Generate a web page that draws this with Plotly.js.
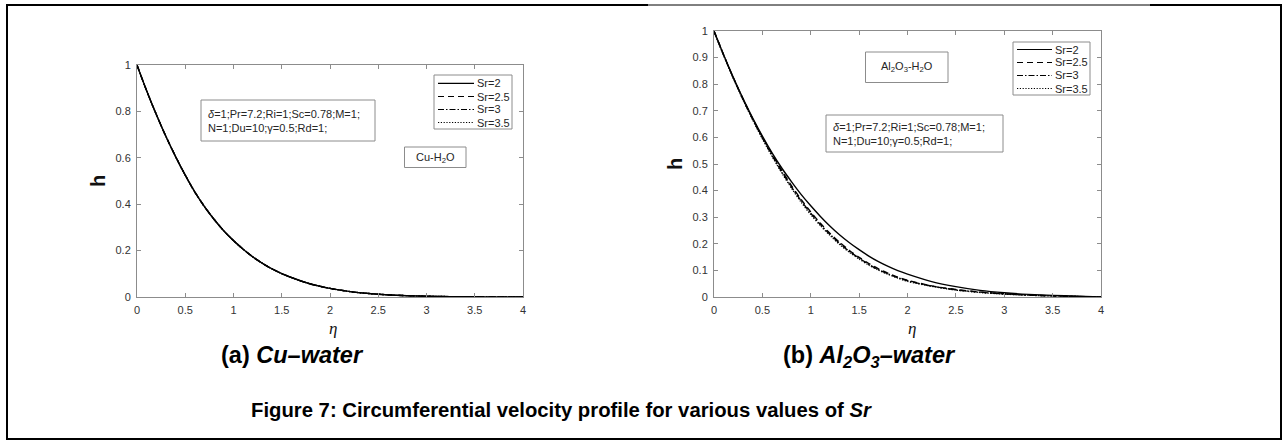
<!DOCTYPE html>
<html>
<head>
<meta charset="utf-8">
<script src="https://cdn.plot.ly/plotly-3.0.1.min.js"></script>
<style>html,body{margin:0;padding:0;background:#fff;}#chart{width:1283px;height:441px;}</style>
</head>
<body>
<div id="chart"></div>
<script>
// ---- data ----
const eta = [0, 0.1, 0.2, 0.3, 0.4, 0.5, 0.6, 0.7, 0.8, 0.9, 1.0, 1.1, 1.2, 1.3, 1.4, 1.5, 1.6, 1.7, 1.8, 1.9, 2.0,
             2.25, 2.5, 2.75, 3.0, 3.25, 3.5, 3.75, 4.0];

// (a) Cu-water : the four curves coincide
const hCuSr2  = [1, 0.889, 0.787, 0.692, 0.605, 0.525, 0.452, 0.389, 0.334, 0.285, 0.243, 0.206, 0.173, 0.145, 0.121, 0.101,
                 0.084, 0.069, 0.056, 0.046, 0.037, 0.021, 0.012, 0.0064, 0.0033, 0.0017, 0.0008, 0.0003, 0];
const hCuSr25 = [1, 0.889, 0.787, 0.692, 0.605, 0.525, 0.452, 0.389, 0.334, 0.285, 0.243, 0.206, 0.173, 0.145, 0.121, 0.101,
                 0.084, 0.069, 0.056, 0.046, 0.037, 0.021, 0.012, 0.0064, 0.0033, 0.0017, 0.0008, 0.0003, 0];
const hCuSr3  = [1, 0.889, 0.787, 0.692, 0.605, 0.525, 0.452, 0.389, 0.334, 0.285, 0.243, 0.206, 0.173, 0.145, 0.121, 0.101,
                 0.084, 0.069, 0.056, 0.046, 0.037, 0.021, 0.012, 0.0064, 0.0033, 0.0017, 0.0008, 0.0003, 0];
const hCuSr35 = [1, 0.889, 0.787, 0.692, 0.605, 0.525, 0.452, 0.389, 0.334, 0.285, 0.243, 0.206, 0.173, 0.145, 0.121, 0.101,
                 0.084, 0.069, 0.056, 0.046, 0.037, 0.021, 0.012, 0.0064, 0.0033, 0.0017, 0.0008, 0.0003, 0];

// (b) Al2O3-water
const hAlSr2  = [1, 0.910, 0.825, 0.746, 0.673, 0.605, 0.542, 0.485, 0.434, 0.386, 0.343, 0.303, 0.266, 0.233, 0.204, 0.178,
                 0.154, 0.133, 0.115, 0.099, 0.086, 0.058, 0.039, 0.025, 0.016, 0.010, 0.006, 0.003, 0];
const hAlSr25 = [1, 0.910, 0.824, 0.745, 0.670, 0.601, 0.537, 0.476, 0.419, 0.367, 0.320, 0.277, 0.239, 0.205, 0.175, 0.149,
                 0.126, 0.106, 0.089, 0.075, 0.063, 0.042, 0.028, 0.019, 0.012, 0.0075, 0.0045, 0.002, 0];
const hAlSr3  = [1, 0.909, 0.823, 0.743, 0.668, 0.598, 0.533, 0.471, 0.414, 0.362, 0.315, 0.272, 0.235, 0.201, 0.171, 0.146,
                 0.123, 0.103, 0.087, 0.073, 0.061, 0.041, 0.027, 0.018, 0.0115, 0.007, 0.004, 0.002, 0];
const hAlSr35 = [1, 0.908, 0.822, 0.741, 0.666, 0.595, 0.529, 0.467, 0.410, 0.357, 0.310, 0.268, 0.231, 0.197, 0.168, 0.143,
                 0.120, 0.101, 0.085, 0.071, 0.059, 0.040, 0.026, 0.017, 0.011, 0.0068, 0.0038, 0.0018, 0];

const seriesNames = ['Sr=2', 'Sr=2.5', 'Sr=3', 'Sr=3.5'];
const xTicks = [0, 0.5, 1, 1.5, 2, 2.5, 3, 3.5, 4];
const yTicksA = [0, 0.2, 0.4, 0.6, 0.8, 1];
const yTicksB = [0, 0.1, 0.2, 0.3, 0.4, 0.5, 0.6, 0.7, 0.8, 0.9, 1];

// ---- styles ----
const W = 1283, H = 441;
const X = p => p / W;
const Y = p => 1 - p / H;
const dashes = ['solid', '6px,4px', '6px,2px,1.5px,2px', '1.2px,1.6px'];
const lineW = 1.4;
const SANS = 'Liberation Sans, Arial, sans-serif';

const cuSets = [hCuSr2, hCuSr25, hCuSr3, hCuSr35];
const alSets = [hAlSr2, hAlSr25, hAlSr3, hAlSr35];

const traces = [];
cuSets.forEach((h, i) => traces.push({
  x: eta, y: h, xaxis: 'x', yaxis: 'y', type: 'scatter', mode: 'lines', name: seriesNames[i],
  line: {color: '#000', width: lineW, dash: dashes[i], shape: 'spline', smoothing: 0.8}
}));
alSets.forEach((h, i) => traces.push({
  x: eta, y: h, xaxis: 'x2', yaxis: 'y2', type: 'scatter', mode: 'lines', name: seriesNames[i],
  line: {color: '#000', width: lineW, dash: dashes[i], shape: 'spline', smoothing: 0.8}
}));

function axisCommon(extra) {
  return Object.assign({
    showgrid: false, zeroline: false, showline: true, linecolor: '#8c8c8c', linewidth: 1,
    mirror: 'ticks', ticks: 'inside', ticklen: 4, tickcolor: '#8c8c8c', tickwidth: 1,
    tickfont: {family: SANS, size: 11, color: '#333'}, fixedrange: true, ticklabelstandoff: 3
  }, extra);
}

const layout = {
  width: W, height: H,
  margin: {l: 0, r: 0, t: 0, b: 0, pad: 0},
  paper_bgcolor: '#fff', plot_bgcolor: '#fff',
  showlegend: false,
  xaxis: axisCommon({domain: [X(137), X(523)], range: [0, 4], tickvals: xTicks, anchor: 'y'}),
  yaxis: axisCommon({domain: [Y(297), Y(65)], range: [0, 1], tickvals: yTicksA, anchor: 'x'}),
  xaxis2: axisCommon({domain: [X(714), X(1101)], range: [0, 4], tickvals: xTicks, anchor: 'y2'}),
  yaxis2: axisCommon({domain: [Y(297), Y(31)], range: [0, 1], tickvals: yTicksB, anchor: 'x2'}),
  shapes: [],
  annotations: []
};

function rect(x0, y0, x1, y1) {
  layout.shapes.push({type: 'rect', xref: 'paper', yref: 'paper', x0: X(x0), x1: X(x1), y0: Y(y1), y1: Y(y0),
    line: {color: '#8c8c8c', width: 1}, fillcolor: 'rgba(0,0,0,0)', layer: 'below'});
}
function seg(x0, y0, x1, y1, w) {
  layout.shapes.push({type: 'line', xref: 'paper', yref: 'paper', x0: X(x0), x1: X(x1), y0: Y(y0), y1: Y(y1),
    line: {color: '#000', width: w}, layer: 'above'});
}
function text(t, x, y, size, opts) {
  const o = opts || {};
  layout.annotations.push({
    text: t, xref: 'paper', yref: 'paper', x: X(x), y: Y(y), showarrow: false,
    xanchor: o.xanchor || 'center', yanchor: 'middle', align: o.align || 'center',
    textangle: o.textangle || 0,
    font: {family: o.family || SANS, size: size, color: o.color || '#262626'}
  });
}

// outer frame
seg(7, 4, 7, 439, 2);
seg(1281, 4, 1281, 439, 2);
seg(6, 439, 1282, 439, 2);
seg(6, 5, 648, 5, 2);
seg(648, 5, 1150, 5, 1);
seg(1150, 5, 1282, 5, 2);

// legends (boxes, line keys, labels)
function legend(bx0, by0, bx1, by1, lx0, lx1, tx, ys) {
  rect(bx0, by0, bx1, by1);
  ys.forEach((yy, i) => {
    layout.shapes.push({type: 'line', xref: 'paper', yref: 'paper', x0: X(lx0), x1: X(lx1), y0: Y(yy), y1: Y(yy),
      line: {color: '#000', width: 1.2, dash: dashes[i]}, layer: 'above'});
    text(seriesNames[i], tx, yy, 11, {xanchor: 'left'});
  });
}
legend(434, 75, 512, 129, 438, 474, 475, [83.3, 96.5, 109.5, 122.5]);
legend(1013, 42, 1090, 95, 1017, 1052, 1053, [49.5, 62.5, 75.5, 88.5]);

// parameter boxes
const params = '<i>δ</i>=1;Pr=7.2;Ri=1;Sc=0.78;M=1;<br>N=1;Du=10;γ=0.5;Rd=1;';
rect(201, 100, 375, 141);
text(params, 206, 120.5, 11, {xanchor: 'left', align: 'left'});
rect(826, 115, 1003, 152);
text(params, 831, 133.5, 11, {xanchor: 'left', align: 'left'});

// fluid label boxes
rect(404.5, 147, 466, 167.5);
text('Cu-H<sub>2</sub>O', 435, 157.5, 11);
rect(865.5, 52, 948, 82.5);
text('Al<sub>2</sub>O<sub>3</sub>-H<sub>2</sub>O', 907, 67, 11);

// axis titles
text('<b>h</b>', 98, 181, 20, {textangle: -90, color: '#111'});
text('<b>h</b>', 675, 164, 20, {textangle: -90, color: '#111'});
const SERIF = 'Liberation Serif, Times New Roman, serif';
text('<i>η</i>', 333, 328, 17, {family: SERIF, color: '#111'});
text('<i>η</i>', 912, 328, 17, {family: SERIF, color: '#111'});

// sub-captions and caption
text('<b>(a) <i>Cu–water</i></b>', 292.5, 355, 23.5, {color: '#000'});
text('<b>(b) <i>Al<sub>2</sub>O<sub>3</sub>–water</i></b>', 869.5, 356, 23.5, {color: '#000'});
text('<b>Figure 7: Circumferential velocity profile for various values of <i>Sr</i></b>', 561.5, 410, 20.3, {color: '#000'});

Plotly.newPlot('chart', traces, layout, {displayModeBar: false, staticPlot: true});
</script>
</body>
</html>
